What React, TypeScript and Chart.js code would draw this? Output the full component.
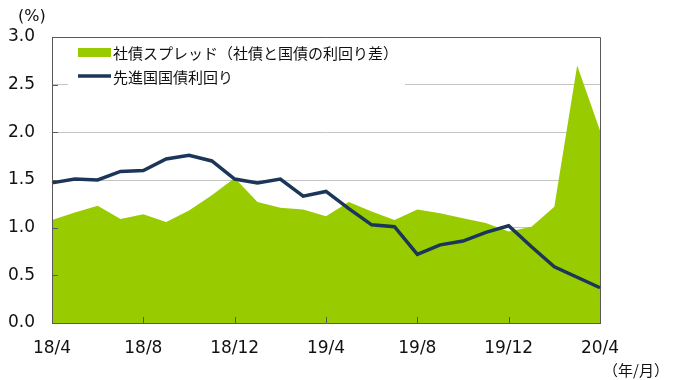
import React, { useEffect, useRef } from 'react';
import { Chart, registerables } from 'chart.js';

Chart.register(...registerables);

const categories = [
  '18/4', '18/5', '18/6', '18/7', '18/8', '18/9', '18/10', '18/11', '18/12',
  '19/1', '19/2', '19/3', '19/4', '19/5', '19/6', '19/7', '19/8', '19/9', '19/10', '19/11', '19/12',
  '20/1', '20/2', '20/3', '20/4',
];
const tickLabels = ['18/4', '18/8', '18/12', '19/4', '19/8', '19/12', '20/4'];
const spread = [1.08, 1.16, 1.23, 1.09, 1.14, 1.06, 1.18, 1.34, 1.52, 1.27, 1.21, 1.19, 1.12, 1.27, 1.17, 1.08, 1.19, 1.15, 1.10, 1.05, 0.96, 1.01, 1.22, 2.70, 2.02];
const yields = [1.47, 1.51, 1.50, 1.59, 1.60, 1.72, 1.76, 1.70, 1.51, 1.47, 1.51, 1.33, 1.38, 1.20, 1.03, 1.01, 0.72, 0.82, 0.86, 0.95, 1.02, 0.80, 0.59, 0.48, 0.37];
const seriesLabels = ['社債スプレッド（社債と国債の利回り差）', '先進国国債利回り'];
const yUnit = '(%)';
const xUnit = '（年/月）';
const yMin = 0;
const yMax = 3;
const yStep = 0.5;

const GREEN = '#99cc00';
const NAVY = '#1b3658';
const AXIS = '#595959';
const GRID = '#c4c4c4';
const NUM_FONT = '"DejaVu Sans", Verdana, sans-serif';
const JP_FONT = '"Noto Sans CJK JP", "Noto Sans", sans-serif';

const decorPlugin = {
  id: 'decor',
  beforeDatasetsDraw(chart: any) {
    const { ctx, chartArea: a } = chart;
    ctx.save();
    ctx.strokeStyle = AXIS;
    ctx.lineWidth = 1;
    ctx.beginPath();
    ctx.moveTo(a.left, Math.round(a.top) + 0.5);
    ctx.lineTo(Math.round(a.right) + 0.5, Math.round(a.top) + 0.5);
    ctx.lineTo(Math.round(a.right) + 0.5, a.bottom);
    ctx.stroke();
    ctx.restore();
  },
  afterDatasetsDraw(chart: any) {
    const { ctx, chartArea: a, scales } = chart;
    const xs = scales.x;
    const ys = scales.y;
    ctx.save();
    ctx.strokeStyle = AXIS;
    ctx.lineWidth = 1;
    ctx.beginPath();
    categories.forEach((c, i) => {
      if (tickLabels.includes(c)) {
        const x = Math.round(xs.getPixelForValue(i)) + 0.5;
        ctx.moveTo(x, a.bottom);
        ctx.lineTo(x, a.bottom - 6);
      }
    });
    for (let v = yMin; v <= yMax + 1e-9; v += yStep) {
      const y = Math.round(ys.getPixelForValue(v)) + 0.5;
      ctx.moveTo(a.left, y);
      ctx.lineTo(a.left + 6, y);
    }
    ctx.stroke();

    // legend
    const lx = a.left + 16;
    const ly = a.top + 3;
    ctx.fillStyle = '#ffffff';
    ctx.fillRect(lx, ly, 337, 50);
    ctx.fillStyle = GREEN;
    ctx.fillRect(a.left + 26, a.top + 11, 33, 9);
    ctx.strokeStyle = NAVY;
    ctx.lineWidth = 3.5;
    ctx.beginPath();
    ctx.moveTo(a.left + 26, a.top + 39);
    ctx.lineTo(a.left + 59, a.top + 39);
    ctx.stroke();
    ctx.fillStyle = '#111';
    ctx.font = `15px ${JP_FONT}`;
    ctx.textBaseline = 'middle';
    ctx.textAlign = 'left';
    ctx.fillText(seriesLabels[0], a.left + 61, a.top + 16);
    ctx.fillText(seriesLabels[1], a.left + 61, a.top + 40);

    // units
    ctx.font = `16px ${NUM_FONT}`;
    ctx.fillText(yUnit, 18, 17);
    ctx.font = `15px ${JP_FONT}`;
    ctx.textAlign = 'right';
    ctx.fillText(xUnit, 669, 370);
    ctx.restore();
  },
};

export default function App() {
  const ref = useRef<HTMLCanvasElement | null>(null);
  useEffect(() => {
    document.body.style.margin = '0';
    const canvas = ref.current;
    if (!canvas) return;
    const chart = new Chart(canvas, {
      type: 'line',
      data: {
        labels: categories,
        datasets: [
          {
            label: seriesLabels[0],
            data: spread,
            fill: 'origin',
            backgroundColor: GREEN,
            borderColor: GREEN,
            borderWidth: 0,
            pointRadius: 0,
            tension: 0,
            order: 1,
          },
          {
            label: seriesLabels[1],
            data: yields,
            fill: false,
            borderColor: NAVY,
            borderWidth: 3.5,
            pointRadius: 0,
            tension: 0,
            order: 0,
          },
        ],
      },
      options: {
        responsive: false,
        animation: false,
        layout: { padding: { top: 37, right: 73, left: 0, bottom: 0 } },
        plugins: { legend: { display: false }, tooltip: { enabled: false } },
        scales: {
          x: {
            offset: false,
            grid: { display: false, drawTicks: false },
            border: { display: true, color: AXIS, width: 1, z: 1 },
            afterFit: (s: any) => { s.height = 57; },
            ticks: {
              autoSkip: false,
              maxRotation: 0,
              padding: 15,
              color: '#111',
              font: { family: NUM_FONT, size: 17 },
              callback: (_v: any, i: number) => (tickLabels.includes(categories[i]) ? categories[i] : ''),
            },
          },
          y: {
            min: yMin,
            max: yMax,
            grid: { color: GRID, drawTicks: false, lineWidth: 1 },
            border: { display: true, color: AXIS, width: 1, z: 1 },
            afterFit: (s: any) => { s.width = 52; },
            ticks: {
              stepSize: yStep,
              padding: 17,
              color: '#111',
              font: { family: NUM_FONT, size: 17 },
              callback: (v: any) => Number(v).toFixed(1),
            },
          },
        },
      },
      plugins: [decorPlugin],
    });
    return () => chart.destroy();
  }, []);
  return <canvas ref={ref} width={673} height={380} style={{ display: 'block' }} />;
}
